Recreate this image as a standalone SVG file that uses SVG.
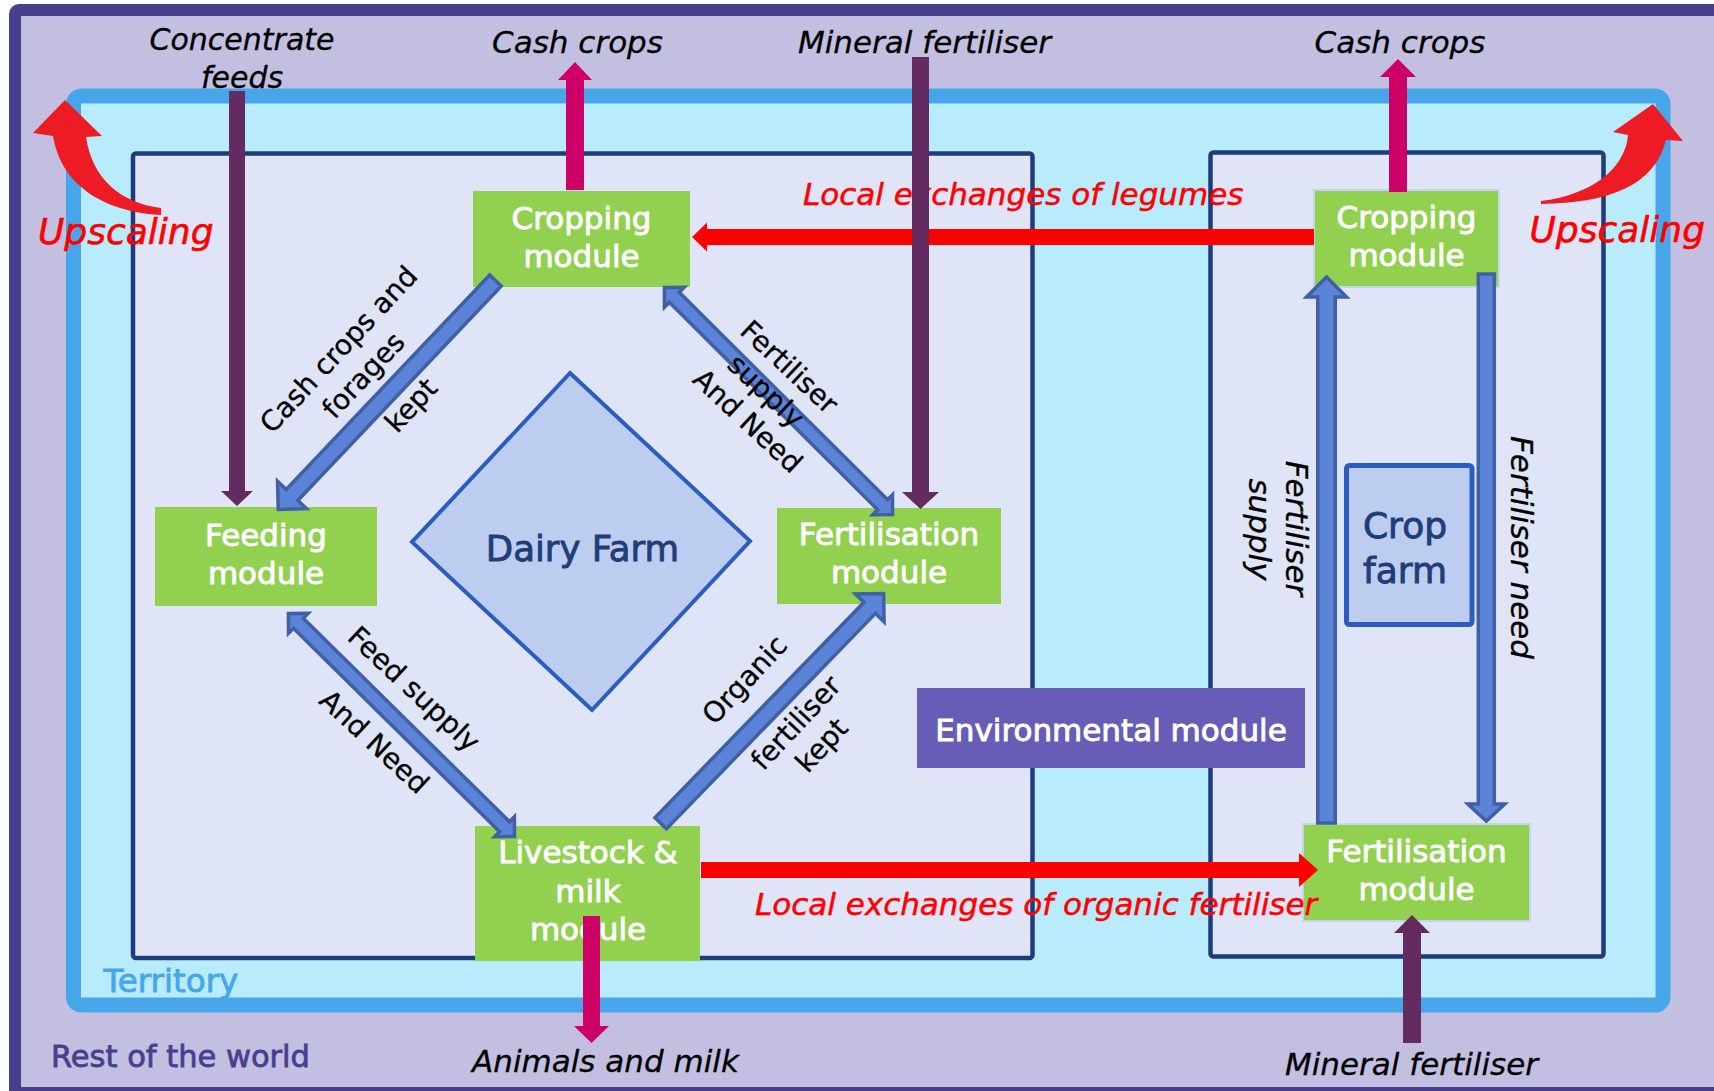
<svg xmlns="http://www.w3.org/2000/svg" width="1714" height="1091" viewBox="0 0 1714 1091">
<defs>
<style>
.outer{fill:#C3BFE1;stroke:#47408D;stroke-width:12}
.territory{fill:#B8ECFD;stroke:#47A6EA;stroke-width:15}
.farm{fill:#DFE5F7;stroke:#1E3C7B;stroke-width:4.5}
.module{fill:#92D050}
.module-b{fill:#92D050;stroke:#C4D6EF;stroke-width:2}
.env{fill:#675DB7}
.shape{fill:#BDCDF0;stroke:#2B5CC0}
text{font-family:"DejaVu Sans","Liberation Sans",sans-serif}
.nt{fill:#fff;stroke:#fff;stroke-width:0.9;font-size:31px;text-anchor:middle}
.lbl{fill:#000;stroke:#000;stroke-width:0.3;font-size:31px;font-style:italic;text-anchor:middle}
.vl{fill:#000;stroke:#000;stroke-width:0.3;font-size:31px;font-style:italic;text-anchor:middle}
.diag{fill:#000;stroke:#000;stroke-width:0.3;font-size:28px;text-anchor:middle}
.red{fill:#FF0000;stroke:#FF0000;stroke-width:0.5;font-size:31px;font-style:italic}
.up{fill:#FF0000;stroke:#FF0000;stroke-width:0.6;font-size:36px;font-style:italic}
.farmtxt{fill:#1F3D7A;stroke:#1F3D7A;stroke-width:0.9;text-anchor:middle}
.blue{fill:#5B83D8;stroke:#4060A6;stroke-width:3.5;stroke-linejoin:miter}
.purple{fill:#632B60}
.magenta{fill:#CC0066}
.redarrow{fill:#FF0000}
.upscale{fill:#ED1C24}
</style>
</defs>

<g id="rest-of-world">
<rect class="outer" x="15" y="10" width="1720" height="1083" rx="4"/>
<text x="51" y="1067" style="fill:#47408D;stroke:#47408D;stroke-width:0.8;font-size:30.5px">Rest of the world</text>
</g>

<g id="territory">
<rect class="territory" x="73.5" y="96" width="1589.5" height="909" rx="8"/>
<text x="103.5" y="992" style="fill:#47A6EA;stroke:#47A6EA;stroke-width:0.8;font-size:32.5px">Territory</text>
</g>

<g id="dairy-farm-area">
<rect class="farm" x="133" y="153.5" width="899.5" height="804.5" rx="3"/>
</g>

<g id="crop-farm-area">
<rect class="farm" x="1210.5" y="152.5" width="393" height="804" rx="3"/>
</g>

<g id="dairy-farm">
<polygon class="shape" stroke-width="4" points="570,373 750,541 592,710 412,542"/>
<text class="farmtxt" x="582.5" y="561" style="font-size:35.5px">Dairy Farm</text>
</g>

<g id="crop-farm">
<rect class="shape" stroke-width="5" x="1346.5" y="465.5" width="125.5" height="159" rx="3"/>
<text class="farmtxt" x="1405" y="538" style="font-size:36px">Crop</text>
<text class="farmtxt" x="1405" y="583" style="font-size:36px">farm</text>
</g>

<g id="cropping-module-dairy">
<rect class="module" x="473" y="191" width="217" height="96"/>
<text class="nt" x="581.5" y="229">Cropping</text>
<text class="nt" x="581.5" y="267">module</text>
</g>

<g id="feeding-module">
<rect class="module" x="155" y="507" width="222" height="99"/>
<text class="nt" x="266" y="546">Feeding</text>
<text class="nt" x="266" y="584">module</text>
</g>

<g id="fertilisation-module-dairy">
<rect class="module" x="777" y="508" width="224" height="96"/>
<text class="nt" x="889" y="545">Fertilisation</text>
<text class="nt" x="889" y="583">module</text>
</g>

<g id="livestock-module">
<rect class="module" x="475" y="826" width="225" height="135"/>
<text class="nt" x="588" y="863">Livestock &amp;</text>
<text class="nt" x="588" y="902">milk</text>
<text class="nt" x="588" y="940">module</text>
</g>

<g id="cropping-module-crop">
<rect class="module-b" x="1314" y="190" width="185" height="97"/>
<text class="nt" x="1406.5" y="228">Cropping</text>
<text class="nt" x="1406.5" y="266">module</text>
</g>

<g id="fertilisation-module-crop">
<rect class="module-b" x="1303" y="824" width="227" height="97"/>
<text class="nt" x="1416.5" y="862">Fertilisation</text>
<text class="nt" x="1416.5" y="900">module</text>
</g>

<g id="environmental-module">
<rect class="env" x="917" y="688" width="388" height="80"/>
<text class="nt" x="1111" y="741">Environmental module</text>
</g>

<g id="connectors">
<!-- blue block arrows -->
<path class="blue" transform="translate(495.5,280.5) rotate(133.5)" d="M0,-8 H295.6 V-20 L315.6,0 L295.6,20 V8 H0 Z"/>
<path class="blue" transform="translate(664.4,287.4) rotate(44.88)" d="M0,0 L14,-14 V-7 H308 V-14 L322,0 L308,14 V7 H14 V14 Z"/>
<path class="blue" transform="translate(288.4,613.4) rotate(44.62)" d="M0,0 L14,-14 V-7 H303.7 V-14 L317.7,0 L303.7,14 V7 H14 V14 Z"/>
<path class="blue" transform="translate(660.7,823.3) rotate(-45.87)" d="M0,-8 H300.2 V-20 L320.2,0 L300.2,20 V8 H0 Z"/>
<path class="blue" transform="translate(1326.5,823) rotate(-90)" d="M0,-8.75 H526 V-20 L546,0 L526,20 V8.75 H0 Z"/>
<path class="blue" transform="translate(1486.3,274) rotate(90)" d="M0,-8 H530 V-18.5 L547,0 L530,18.5 V8 H0 Z"/>

<!-- diagonal labels -->
<text class="diag" transform="translate(345.6,356.1) rotate(-47)">Cash crops and</text>
<text class="diag" transform="translate(370.5,381.8) rotate(-47)">forages</text>
<text class="diag" transform="translate(418,411.8) rotate(-47)">kept</text>
<text class="diag" transform="translate(782.7,374) rotate(43)">Fertiliser</text>
<text class="diag" transform="translate(759.4,398) rotate(43)">supply</text>
<text class="diag" transform="translate(741.2,428) rotate(43)">And Need</text>
<text class="diag" transform="translate(407.4,696) rotate(43)">Feed supply</text>
<text class="diag" transform="translate(367.7,748.8) rotate(43)">And Need</text>
<text class="diag" transform="translate(751.6,686.3) rotate(-47)">Organic</text>
<text class="diag" transform="translate(803,729.3) rotate(-47)">fertiliser</text>
<text class="diag" transform="translate(828.7,751.8) rotate(-47)">kept</text>

<!-- vertical labels -->
<text class="vl" transform="translate(1285.5,528.5) rotate(90)">Fertiliser</text>
<text class="vl" transform="translate(1249,529.5) rotate(90)">supply</text>
<text class="vl" transform="translate(1510.5,547.5) rotate(90)">Fertiliser need</text>

<!-- red local exchange arrows -->
<polygon class="redarrow" points="1314,229 707,229 707,222.5 692,237 707,251.5 707,245 1314,245"/>
<polygon class="redarrow" points="701,862 1299,862 1299,853 1318,870 1299,887 1299,878 701,878"/>
<text class="red" x="803" y="205">Local exchanges of legumes</text>
<text class="red" x="755" y="915">Local exchanges of organic fertiliser</text>

<!-- upscaling arrows -->
<path class="upscale" d="M161,215 C110,212 62,190 53,136 L33,133 L65,100 L102,136 L86,137 C92,178 120,203 161,208 Z"/>
<path class="upscale" d="M1541,201 C1590,195 1625,170 1628,135 L1613,132 L1653,104 L1683,141 L1666,140 C1655,185 1610,203 1541,204 Z"/>
<text class="up" x="38" y="244">Upscaling</text>
<text class="up" x="1529.5" y="242">Upscaling</text>

<!-- purple inputs -->
<polygon class="purple" points="229,91 245,91 245,491 253,491 237,506 221,491 229,491"/>
<polygon class="purple" points="912,57 929,57 929,492 939,492 920.5,509 902,492 912,492"/>
<polygon class="purple" points="1403,1043 1421,1043 1421,933 1430,933 1412,915 1394,933 1403,933"/>

<!-- magenta outputs -->
<polygon class="magenta" points="566,190 584,190 584,80 592,80 575,62 558,80 566,80"/>
<polygon class="magenta" points="1389,192 1407,192 1407,77 1416,77 1398,59 1380,77 1389,77"/>
<polygon class="magenta" points="583,916 600,916 600,1026 609,1026 591.5,1043 574,1026 583,1026"/>

<!-- external labels -->
<text class="lbl" x="242" y="50" style="font-size:30px">Concentrate</text>
<text class="lbl" x="242" y="88" style="font-size:30px">feeds</text>
<text class="lbl" x="577.5" y="53">Cash crops</text>
<text class="lbl" x="924.5" y="53">Mineral fertiliser</text>
<text class="lbl" x="1400" y="53">Cash crops</text>
<text class="lbl" x="605.5" y="1072">Animals and milk</text>
<text class="lbl" x="1411.5" y="1075">Mineral fertiliser</text>
</g>
</svg>
